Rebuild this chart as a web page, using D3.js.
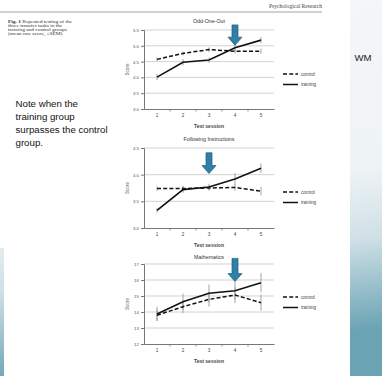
<!DOCTYPE html>
<html><head><meta charset="utf-8">
<script src="https://cdn.jsdelivr.net/npm/d3@7"></script>
<style>html,body{margin:0;padding:0;overflow:hidden;background:#fff}</style>
</head><body><svg id="c" width="382" height="376"></svg>
<script>
// ---- data ----
const sessions = [1, 2, 3, 4, 5];
const panelTitles = ["Odd-One-Out", "Following Instructions", "Mathematics"];
const seriesNames = ["control", "training"];
const oddControl = [4.57, 4.76, 4.88, 4.83, 4.83];
const oddControlErr = [0.06, 0.06, 0.07, 0.08, 0.08];
const oddTraining = [4.01, 4.48, 4.55, 4.94, 5.18];
const oddTrainingErr = [0.1, 0.1, 0.08, 0.1, 0.1];
const fiControl = [3.74, 3.74, 3.75, 3.76, 3.69];
const fiControlErr = [0.04, 0.05, 0.05, 0.06, 0.08];
const fiTraining = [3.33, 3.72, 3.77, 3.92, 4.12];
const fiTrainingErr = [0.04, 0.06, 0.06, 0.11, 0.09];
const mathControl = [13.8, 14.33, 14.79, 15.06, 14.58];
const mathControlErr = [0.35, 0.4, 0.45, 0.5, 0.5];
const mathTraining = [13.88, 14.64, 15.17, 15.33, 15.83];
const mathTrainingErr = [0.45, 0.5, 0.55, 0.55, 0.6];
const yTicksOdd = [3.0, 3.5, 4.0, 4.5, 5.0, 5.5];
const yTicksFi = [3.0, 3.5, 4.0, 4.5];
const yTicksMath = [12, 13, 14, 15, 16, 17];
const arrowSession = [4, 3, 4];
const arrowTopValue = [5.66, 4.41, 17.35];
const arrowTipValue = [5.02, 4.02, 15.9];
const captionLines = ["Repeated testing of the", "three transfer tasks in the", "training and control groups", "(mean raw score, \u00b1SEM)"];
const noteLines = ["Note when the", "training group", "surpasses the control", "group."];

const svg = d3.select("#c");
const W = 382, H = 376;

// ---- slide background ----
const defs = svg.append("defs");
const g1 = defs.append("linearGradient").attr("id", "bg").attr("x1", 0).attr("y1", 0).attr("x2", 0.15).attr("y2", 1);
g1.append("stop").attr("offset", "0%").attr("stop-color", "#f6f8f9");
g1.append("stop").attr("offset", "58%").attr("stop-color", "#eef3f5");
g1.append("stop").attr("offset", "76%").attr("stop-color", "#cfe0e6");
g1.append("stop").attr("offset", "100%").attr("stop-color", "#6aa3b4");
svg.append("rect").attr("width", W).attr("height", H).attr("fill", "url(#bg)");
svg.append("rect").attr("x", 4).attr("y", 0).attr("width", 346).attr("height", H).attr("fill", "#fff");
svg.append("rect").attr("x", 0).attr("y", 0).attr("width", 4).attr("height", 248).attr("fill", "#fff");

// header
svg.append("text").attr("x", 269).attr("y", 7.5).attr("textLength", 53).attr("lengthAdjust", "spacingAndGlyphs")
  .attr("font-family", "Liberation Serif").attr("font-size", 5.2).attr("fill", "#444").text("Psychological Research");
svg.append("line").attr("x1", 0).attr("x2", 322).attr("y1", 12).attr("y2", 12).attr("stroke", "#8a8a8a").attr("stroke-width", 0.8);

// caption
const cap = svg.append("text").attr("transform", "translate(8,0) scale(1.6,1)")
  .attr("font-family", "Liberation Serif").attr("font-size", 3.4).attr("fill", "#333");
captionLines.forEach((l, i) => {
  const t = cap.append("tspan").attr("x", 0).attr("y", 23 + i * 4.0);
  if (i === 0) t.append("tspan").attr("font-weight", "bold").text("Fig. 1 ");
  t.append("tspan").text(l);
});

// note
const note = svg.append("text").attr("font-family", "Liberation Sans, Arial").attr("font-size", 9.7).attr("fill", "#111");
noteLines.forEach((l, i) => note.append("tspan").attr("x", 15.5).attr("y", 107 + i * 13).text(l));

// WM
svg.append("text").attr("x", 363).attr("y", 60.5).attr("text-anchor", "middle")
  .attr("font-family", "Liberation Sans, Arial").attr("font-size", 9.6).attr("fill", "#222").text("WM");

// ---- panels ----
const panels = [
  { title: panelTitles[0], control: oddControl, cErr: oddControlErr, training: oddTraining, tErr: oddTrainingErr,
    ticks: yTicksOdd, fmt: d3.format(".1f"), top: 30, bottom: 109, legY: 74, titleY: 23, arrowIdx: 0 },
  { title: panelTitles[1], control: fiControl, cErr: fiControlErr, training: fiTraining, tErr: fiTrainingErr,
    ticks: yTicksFi, fmt: d3.format(".1f"), top: 148, bottom: 228, legY: 192, titleY: 141, arrowIdx: 1 },
  { title: panelTitles[2], control: mathControl, cErr: mathControlErr, training: mathTraining, tErr: mathTrainingErr,
    ticks: yTicksMath, fmt: d3.format("d"), top: 264, bottom: 344, legY: 297, titleY: 259, arrowIdx: 2 }
];
const L = 144, R = 274;
const x = d3.scaleBand().domain(sessions).range([L, R]);
const cx = d => x(d) + x.bandwidth() / 2;
const font = "Liberation Sans, Arial";

panels.forEach(p => {
  const y = d3.scaleLinear().domain([d3.min(p.ticks), d3.max(p.ticks)]).range([p.bottom, p.top]);
  const g = svg.append("g");
  // grid
  g.selectAll(".grid").data(p.ticks.slice(1)).join("line")
    .attr("x1", L).attr("x2", R).attr("y1", d => y(d)).attr("y2", d => y(d))
    .attr("stroke", "#c8c8c8").attr("stroke-width", 0.8);
  // y axis
  const ya = g.append("g").attr("transform", `translate(${L},0)`)
    .call(d3.axisLeft(y).tickValues(p.ticks).tickFormat(p.fmt).tickSize(3).tickPadding(2));
  ya.select(".domain").attr("stroke", "#777").attr("stroke-width", 1);
  ya.selectAll(".tick line").attr("stroke", "#777");
  ya.selectAll("text").attr("font-size", 4.4).attr("font-family", font).attr("fill", "#555");
  // x axis
  const xa = g.append("g").attr("transform", `translate(0,${p.bottom})`)
    .call(d3.axisBottom(x).tickSize(0).tickPadding(5));
  xa.select(".domain").attr("stroke", "#777").attr("stroke-width", 1);
  xa.selectAll("text").attr("font-size", 4.6).attr("font-family", font).attr("fill", "#444");
  g.selectAll(".bt").data(sessions.slice(1)).join("line")
    .attr("x1", d => x(d)).attr("x2", d => x(d)).attr("y1", p.bottom).attr("y2", p.bottom + 2.5)
    .attr("stroke", "#777").attr("stroke-width", 0.8);
  // labels
  g.append("text").attr("x", 209).attr("y", p.bottom + 19).attr("text-anchor", "middle")
    .attr("font-family", font).attr("font-size", 5).attr("font-weight", "bold").attr("fill", "#444").text("Test session");
  g.append("text").attr("transform", `translate(129,${(p.top + p.bottom) / 2}) rotate(-90)`).attr("text-anchor", "middle")
    .attr("font-family", font).attr("font-size", 4.6).attr("fill", "#555").text("Score");
  g.append("text").attr("x", 209).attr("y", p.titleY).attr("text-anchor", "middle")
    .attr("font-family", font).attr("font-size", 5.3).attr("fill", "#333").text(p.title);
  // error bars
  [[p.control, p.cErr], [p.training, p.tErr]].forEach(([vals, errs]) => {
    g.selectAll(null).data(sessions).join("line")
      .attr("x1", d => cx(d)).attr("x2", d => cx(d))
      .attr("y1", (d, i) => y(vals[i] - errs[i])).attr("y2", (d, i) => y(vals[i] + errs[i]))
      .attr("stroke", "#999").attr("stroke-width", 0.9);
  });
  // lines
  const line = vals => d3.line().x(d => cx(d)).y((d, i) => y(vals[i]))(sessions);
  g.append("path").attr("d", line(p.control)).attr("fill", "none").attr("stroke", "#111")
    .attr("stroke-width", 1.5).attr("stroke-dasharray", "4,2.2");
  g.append("path").attr("d", line(p.training)).attr("fill", "none").attr("stroke", "#111").attr("stroke-width", 1.6);
  // legend
  seriesNames.forEach((s, i) => {
    const ly = p.legY + i * 10.5;
    g.append("line").attr("x1", 283).attr("x2", 298).attr("y1", ly).attr("y2", ly).attr("stroke", "#111")
      .attr("stroke-width", 1.5).attr("stroke-dasharray", i === 0 ? "4,2.2" : null);
    g.append("text").attr("x", 301).attr("y", ly + 1.6).attr("font-family", font).attr("font-size", 4.6)
      .attr("fill", "#444").text(s);
  });
  // arrow
  const ai = p.arrowIdx;
  const ax = cx(arrowSession[ai]), yT = y(arrowTopValue[ai]), yB = y(arrowTipValue[ai]);
  const sw = 3, hw = 7, hl = 8;
  const pts = [[ax - sw, yT], [ax + sw, yT], [ax + sw, yB - hl], [ax + hw, yB - hl], [ax, yB], [ax - hw, yB - hl], [ax - sw, yB - hl]];
  g.append("path").attr("d", d3.line()(pts) + "Z").attr("fill", "#2f80a8").attr("stroke", "#1f5d7c").attr("stroke-width", 0.7);
});
</script></body></html>
